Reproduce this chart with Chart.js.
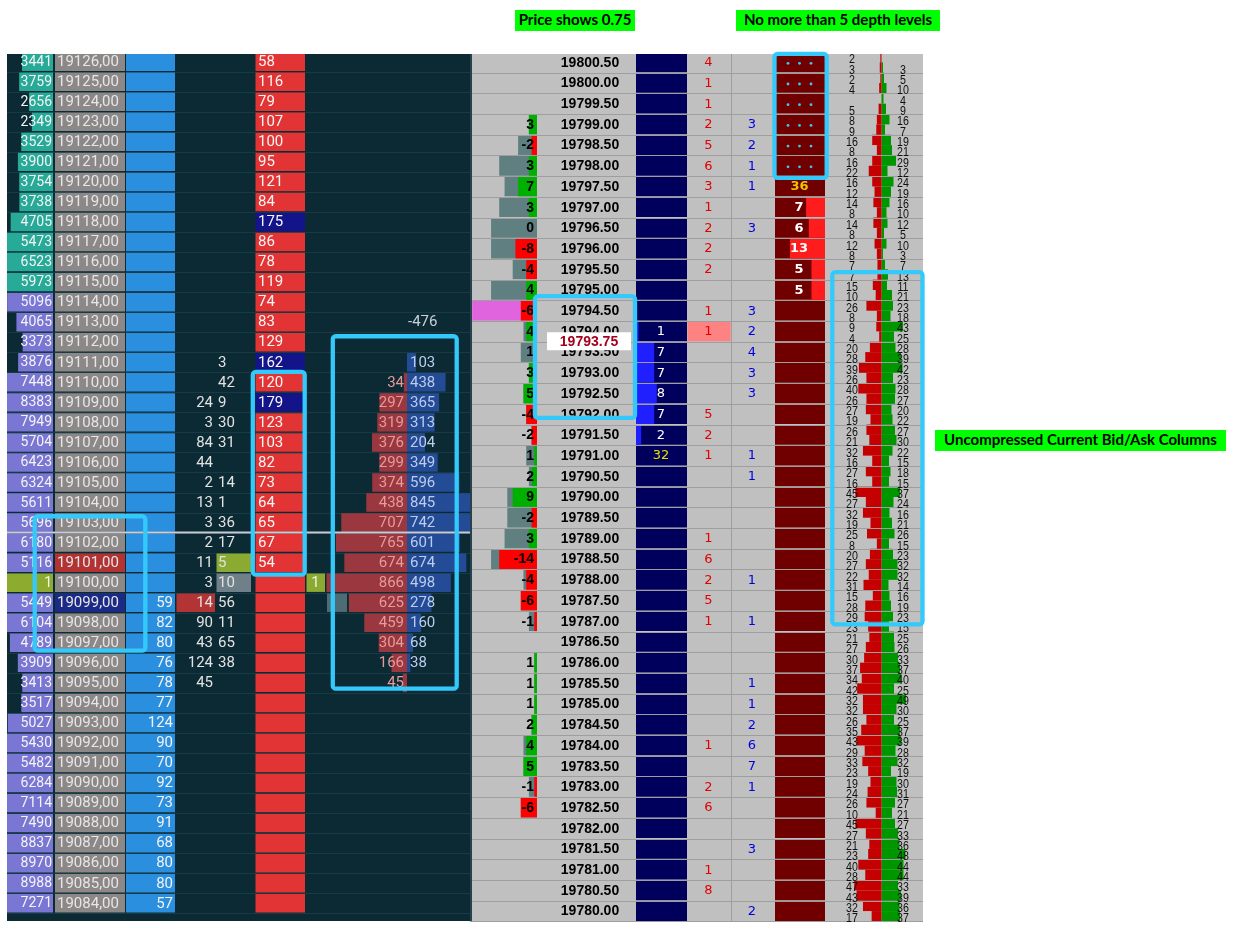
<!DOCTYPE html>
<html>
<head>
<meta charset="utf-8">
<title>DOM ladders</title>
<script src="https://cdn.jsdelivr.net/npm/chart.js@4.4.1/dist/chart.umd.min.js"></script>
<style>
  html, body { margin: 0; padding: 0; background: #fff; }
  #wrap { position: relative; width: 1245px; height: 936px; overflow: hidden; }
  .note { position: absolute; height: 21px; line-height: 21px; background: #00ff00; color: #000;
          font: bold 15px Lato, "Open Sans", sans-serif; text-align: center; white-space: nowrap; }
</style>
</head>
<body>
<div id="wrap">
  <canvas id="ladder" width="1245" height="936"></canvas>
  <div class="note" style="left:515px;top:10px;width:120px">Price shows 0.75</div>
  <div class="note" style="left:736px;top:10px;width:204px">No more than 5 depth levels</div>
  <div class="note" style="left:935px;top:430px;width:291px">Uncompressed Current Bid/Ask Columns</div>
</div>
<script>
// ---------- left ladder (1.00 ticks) ----------
const priceL = [19126,19125,19124,19123,19122,19121,19120,19119,19118,19117,
                19116,19115,19114,19113,19112,19111,19110,19109,19108,19107,
                19106,19105,19104,19103,19102,19101,19100,19099,19098,19097,
                19096,19095,19094,19093,19092,19091,19090,19089,19088,19087,
                19086,19085,19084];
const volProfile = [3441,3759,2656,2349,3529,3900,3754,3738,4705,5473,
                    6523,5973,5096,4065,3373,3876,7448,8383,7949,5704,
                    6423,6324,5611,5696,6180,5116,1,5449,6104,4789,
                    3909,3413,3517,5027,5430,5482,6284,7114,7490,8837,
                    8970,8988,7271];
const profileSplit = 19115;          // teal at and above, purple below
const lastPriceL = 19100;
const askPriceL = 19101;
const bidPriceL = 19099;
const bidSizeL = [null,null,null,null,null,null,null,null,null,null,
                  null,null,null,null,null,null,null,null,null,null,
                  null,null,null,null,null,null,null,59,82,80,
                  76,78,77,124,90,70,92,73,91,68,
                  80,80,57];
const askSizeL = [58,116,79,107,100,95,121,84,175,86,
                  78,119,74,83,129,162,120,179,123,103,
                  82,73,64,65,67,54,null,null,null,null,
                  null,null,null,null,null,null,null,null,null,null,
                  null,null,null];
const largeAskL = [19118, 19111, 19109];
const tradeLeftL = [null,null,null,null,null,null,null,null,null,null,
                    null,null,null,null,null,null,null,24,3,84,
                    44,2,13,3,2,11,3,14,90,43,
                    124,45,null,null,null,null,null,null,null,null,
                    null,null,null];
const tradeRightL = [null,null,null,null,null,null,null,null,null,null,
                     null,null,null,null,null,3,42,9,30,31,
                     null,14,1,36,17,5,10,56,11,65,
                     38,null,null,null,null,null,null,null,null,null,
                     null,null,null];
const sessSellL = [null,null,null,null,null,null,null,null,null,null,
                   null,null,null,null,null,null,34,297,319,376,
                   299,374,438,707,765,674,866,625,459,304,
                   166,45,null,null,null,null,null,null,null,null,
                   null,null,null];
const sessBuyL = [null,null,null,null,null,null,null,null,null,null,
                  null,null,null,null,null,103,438,365,313,204,
                  349,596,845,742,601,674,498,278,160,68,
                  38,null,null,null,null,null,null,null,null,null,
                  null,null,null];
const sessDeltaAt = 19113;
const lastPrintL = 1;
const markerLineL = 19102.5;

// ---------- right ladder (0.50 ticks) ----------
const priceR = [19800.5,19800,19799.5,19799,19798.5,19798,19797.5,19797,19796.5,19796,
                19795.5,19795,19794.5,19794,19793.5,19793,19792.5,19792,19791.5,19791,
                19790.5,19790,19789.5,19789,19788.5,19788,19787.5,19787,19786.5,19786,
                19785.5,19785,19784.5,19784,19783.5,19783,19782.5,19782,19781.5,19781,
                19780.5,19780];
const deltaR = [null,null,null,3,-2,3,7,3,0,-8,
                -4,4,-6,4,1,3,5,-4,-2,1,
                2,9,-2,3,-14,-4,-6,-1,null,1,
                1,1,2,4,5,-1,-6,null,null,null,
                null,null];
const volR = [0,0,0,3,7,14,12,14,17,17,
              9,17,24,5,6,3,5,4,2,4,
              3,11,11,12,17,5,6,3,0,1,
              1,1,2,5,5,3,6,0,0,0,
              0,0];
const bidDepthR = [null,null,null,null,null,null,null,null,null,null,
                   null,null,null,1,7,7,8,7,2,null,
                   null,null,null,null,null,null,null,null,null,null,
                   null,null,null,null,null,null,null,null,null,null,
                   null,null];
const askDepthR = [null,null,null,null,null,null,null,7,6,13,
                   5,5,null,null,null,null,null,null,null,null,
                   null,null,null,null,null,null,null,null,null,null,
                   null,null,null,null,null,null,null,null,null,null,
                   null,null];
const sellR = [4,1,1,2,5,6,3,1,2,2,
               2,null,1,1,null,null,null,5,2,1,
               null,null,null,1,6,2,5,1,null,null,
               null,null,null,1,null,2,6,null,null,1,
               8,null];
const buyR = [null,null,null,3,2,1,1,null,3,null,
              null,null,3,2,4,3,3,null,null,1,
              1,null,null,null,null,1,null,1,null,null,
              1,1,2,6,7,1,null,null,3,null,
              null,2];
const hiddenAskPrices = [19800.5,19800,19799.5,19799,19798.5,19798];
const hiddenAskTotal = 36, hiddenAskAt = 19797.5;
const hiddenBidTotal = 32, hiddenBidAt = 19791;
const lastTradeR = 19794;
const showPriceR = 19793.75;
// uncompressed bid/ask column, two values per 0.50 row
const splitBid = [2,3,2,4,null,5,8,9,16,8, 16,22,16,12,14,8,14,8,12,8,
                  7,7,15,10,26,8,9,4,20,28, 39,26,40,26,27,19,26,21,32,16,
                  27,16,45,27,32,19,25,8,20,27, 22,31,15,28,29,23,21,27,30,37,
                  34,42,32,32,26,35,43,29,33,23, 19,24,26,10,45,27,21,23,40,28,
                  47,43,32,17];
const splitAsk = [null,3,5,10,4,9,16,7,19,21, 29,12,24,19,16,10,12,5,10,3,
                  7,13,11,21,23,18,43,25,28,39, 42,23,28,27,20,22,27,30,22,15,
                  18,15,37,24,16,21,26,15,23,32, 32,14,16,19,23,15,25,26,33,37,
                  40,25,49,30,25,37,39,28,32,19, 30,31,27,21,27,33,36,48,44,44,
                  33,39,36,37];
const halfPrices = priceR.flatMap(p => [p + 0.125, p - 0.125]);

// ---------- layout (x scale runs 0..1245, one unit per page pixel) ----------
const TOP = 54, BOTTOM = 921;
const PANEL_L = [7, 470], PANEL_R = [470, 923];
const yLmax = priceL[0] + 0.385, yLmin = priceL[priceL.length - 1] - 0.883;
const yRmax = priceR[0] + 0.2, yRmin = priceR[priceR.length - 1] - 0.24;
const rowL = (BOTTOM - TOP) / (yLmax - yLmin);
const rowR = (BOTTOM - TOP) / (yRmax - yRmin) * 0.5;

const calloutsL = [{x: [34.7, 145.3], y: [19103.315, 19096.61]},
                   {x: [252.8, 304.7], y: [19110.52, 19100.40]},
                   {x: [332.8, 456.7], y: [19112.30, 19094.71]}];
const calloutsR = [{x: [535, 635], y: [19794.85, 19791.91]},
                   {x: [774.5, 826.7], y: [19800.705, 19797.71]},
                   {x: [832.3, 922.5], y: [19795.43, 19786.925]}];

function rows(prices, vals, fn) {
  return prices.map((p, i) => (vals[i] == null ? null : {y: p, x: fn(vals[i], p), v: vals[i], p}))
               .filter(Boolean);
}

function bars(label, axis, data, order, color) {
  return {
    label, data, order, xAxisID: 'x', yAxisID: axis,
    backgroundColor: color,
    barThickness: axis === 'yL' ? rowL - 1.6 : axis === 'yR' ? rowR - 1 : rowR / 2,
    grouped: false, borderWidth: 0, inflateAmount: 0, clip: 0
  };
}

const maxVolR = Math.max(...volR);

const datasets = [
  // left ladder
  bars('profile', 'yL', rows(priceL, volProfile, (v, p) =>
      p === lastPriceL ? [PANEL_L[0], 53] : [53 - Math.min(v * 0.009, 46), 53]), 5,
      c => c.raw.p === lastPriceL ? '#8dab2e' : c.raw.p >= profileSplit ? '#27aa98' : '#7976d4'),
  bars('priceCells', 'yL', rows(priceL, priceL, () => [55, 125]), 9,
      c => c.raw.p === askPriceL ? '#b33232' : c.raw.p === bidPriceL ? '#1b2a86' : '#8c8888'),
  bars('bidColumn', 'yL', rows(priceL, priceL, () => [126, 175]), 9, '#2b8fe0'),
  bars('askColumn', 'yL', rows(priceL, priceL, () => [255.5, 305]), 9,
      c => largeAskL.includes(c.raw.p) ? '#14148a' : '#e23434'),
  bars('tradeMarks', 'yL', [
      {y: askPriceL, x: [216.5, 251]}, {y: lastPriceL, x: [216.5, 251]}, {y: bidPriceL, x: [176.5, 215]}], 5,
      ['#8aaa32', '#6f8088', '#b23434']),
  bars('sessSell', 'yL', rows(priceL, sessSellL, v => [407 - v * 0.093, 407]), 6, 'rgba(168,58,64,0.92)'),
  bars('sessBuy', 'yL', rows(priceL, sessBuyL, v => [407, Math.min(PANEL_L[1], 407 + v * 0.088)]), 6, 'rgba(38,78,156,0.95)'),
  bars('lastPrint', 'yL', [{y: lastPriceL, x: [306.5, 325]}, {y: bidPriceL, x: [327, 347]}], 5, ['#8aaa32', '#4d6c73']),
  // right ladder
  bars('bidBg', 'yR', rows(priceR, priceR, () => [636, 687]), 9, '#00005c'),
  bars('askBg', 'yR', rows(priceR, priceR, () => [775, 825]), 9, '#700000'),
  bars('volume', 'yR', rows(priceR, volR.map(v => v || null), v => [537 - v * 2.7, 537]), 7,
      c => c.raw.v === maxVolR ? '#e064de' : '#5f7f80'),
  bars('delta', 'yR', rows(priceR, deltaR.map(d => d || null), d => [537 - Math.abs(d) * 2.7, 537]), 6,
      c => c.raw.v > 0 ? '#00b000' : '#ff0000'),
  bars('bidDepth', 'yR', rows(priceR, bidDepthR, v => [636, 636 + v * 2.6]), 6, '#2020ff'),
  bars('askDepth', 'yR', rows(priceR, askDepthR, v => [825 - v * 2.7, 825]), 6, '#ff1c1c'),
  bars('lastTrade', 'yR', [{y: lastTradeR, x: [687.5, 730.5]}], 6, '#ff8282'),
  bars('splitBid', 'yQ', rows(halfPrices, splitBid, v => [881.5 - v * 0.58, 881.5]), 6, '#c40000'),
  bars('splitAsk', 'yQ', rows(halfPrices, splitAsk, v => [881.5, 881.5 + v * 0.5]), 6, '#009600')
];

function txt(ctx, s, x, y, font, color, align) {
  ctx.font = font;
  ctx.fillStyle = color;
  ctx.textAlign = align || 'center';
  ctx.textBaseline = 'middle';
  ctx.fillText(s, x, y);
}

function hline(ctx, x0, x1, y) {
  ctx.beginPath(); ctx.moveTo(x0, y); ctx.lineTo(x1, y); ctx.stroke();
}

const ladderPlugin = {
  id: 'ladder',
  beforeDatasetsDraw(chart) {
    const {ctx, chartArea: a, scales: {x, yL}} = chart;
    ctx.save();
    ctx.fillStyle = '#0b2a34';
    ctx.fillRect(x.getPixelForValue(PANEL_L[0]), a.top, PANEL_L[1] - PANEL_L[0], a.bottom - a.top);
    ctx.fillStyle = '#c0c0c0';
    ctx.fillRect(x.getPixelForValue(PANEL_R[0]), a.top, PANEL_R[1] - PANEL_R[0], a.bottom - a.top);
    ctx.strokeStyle = '#173a45';
    ctx.lineWidth = 1;
    priceL.forEach(p => hline(ctx, x.getPixelForValue(PANEL_L[0]), x.getPixelForValue(PANEL_L[1]),
                               Math.round(yL.getPixelForValue(p - 0.5)) + 0.5));
    ctx.restore();
  },
  afterDatasetsDraw(chart) {
    const {ctx, scales: {x, yL, yR, yQ}} = chart;
    const X = v => x.getPixelForValue(v);
    ctx.save();

    // right grid
    ctx.strokeStyle = '#9e9e9e';
    ctx.lineWidth = 1;
    priceR.forEach(p => hline(ctx, X(PANEL_R[0]), X(PANEL_R[1]), Math.round(yR.getPixelForValue(p - 0.25)) + 0.5));
    ctx.beginPath(); ctx.moveTo(X(731.5), yR.getPixelForValue(yRmax)); ctx.lineTo(X(731.5), yR.getPixelForValue(yRmin)); ctx.stroke();
    ctx.strokeStyle = '#27414d';
    ctx.lineWidth = 2;
    ctx.beginPath(); ctx.moveTo(X(471), yR.getPixelForValue(yRmax)); ctx.lineTo(X(471), yR.getPixelForValue(yRmin)); ctx.stroke();

    // left texts
    const fL = '15px Roboto, sans-serif';
    priceL.forEach((p, i) => {
      const y = yL.getPixelForValue(p) + 0.5;
      txt(ctx, String(volProfile[i]), X(52), y, '14px Roboto, sans-serif', '#f4f4f4', 'right');
      txt(ctx, p.toFixed(2).replace('.', ','), X(57), y, fL, '#e6e6e6', 'left');
      if (bidSizeL[i] != null) txt(ctx, String(bidSizeL[i]), X(173), y, fL, '#f2f2f2', 'right');
      if (tradeLeftL[i] != null) txt(ctx, String(tradeLeftL[i]), X(213), y, fL, '#e2e2e2', 'right');
      if (tradeRightL[i] != null) txt(ctx, String(tradeRightL[i]), X(218), y, fL, '#e2e2e2', 'left');
      if (askSizeL[i] != null) txt(ctx, String(askSizeL[i]), X(258), y, fL, '#f6f6f6', 'left');
      if (sessSellL[i] != null) txt(ctx, String(sessSellL[i]), X(404), y, fL, '#e59a9c', 'right');
      if (sessBuyL[i] != null) txt(ctx, String(sessBuyL[i]), X(410), y, fL, '#bccbee', 'left');
    });
    const sum = arr => arr.reduce((s, v) => s + (v || 0), 0);
    txt(ctx, String(sum(sessBuyL) - sum(sessSellL)), X(408), yL.getPixelForValue(sessDeltaAt), fL, '#c9d1d8', 'left');
    txt(ctx, String(lastPrintL), X(315.5), yL.getPixelForValue(lastPriceL) + 0.5, fL, '#eef2e0');

    // marker line on the left ladder
    ctx.strokeStyle = '#c9ccd4';
    ctx.lineWidth = 2;
    hline(ctx, X(PANEL_L[0]), X(PANEL_L[1]), yL.getPixelForValue(markerLineL));

    // right texts
    const fB = 'bold 14px "Liberation Sans", Arial, sans-serif';
    const fN = '13px "DejaVu Sans", sans-serif';
    priceR.forEach((p, i) => {
      const y = yR.getPixelForValue(p) + 0.5;
      txt(ctx, p.toFixed(2), X(590), y, fB, '#000');
      if (deltaR[i] != null) txt(ctx, String(deltaR[i]), X(534), y, fB, '#000', 'right');
      if (bidDepthR[i] != null) txt(ctx, String(bidDepthR[i]), X(661), y, fN, '#ffffff');
      if (sellR[i] != null) txt(ctx, String(sellR[i]), X(708.5), y, fN, '#e00000');
      if (buyR[i] != null) txt(ctx, String(buyR[i]), X(752), y, fN, '#0000e0');
      if (askDepthR[i] != null) txt(ctx, String(askDepthR[i]), X(799), y, 'bold 13px "DejaVu Sans", sans-serif', '#ffffff');
    });
    txt(ctx, String(hiddenAskTotal), X(799.5), yR.getPixelForValue(hiddenAskAt) + 0.5, 'bold 13px "DejaVu Sans", sans-serif', '#e8c400');
    txt(ctx, String(hiddenBidTotal), X(661), yR.getPixelForValue(hiddenBidAt) + 0.5, fN, '#e8e000');

    // hidden depth levels
    ctx.fillStyle = '#3cc8f0';
    hiddenAskPrices.forEach(p => {
      const y = yR.getPixelForValue(p) + 1;
      [788, 799.5, 811].forEach(dx => { ctx.beginPath(); ctx.arc(X(dx), y, 1.4, 0, Math.PI * 2); ctx.fill(); });
    });

    // uncompressed bid/ask numbers (condensed)
    ctx.font = '13px "Liberation Sans", Arial, sans-serif';
    ctx.fillStyle = '#101010';
    ctx.textAlign = 'center';
    ctx.textBaseline = 'middle';
    halfPrices.forEach((p, i) => {
      const y = yQ.getPixelForValue(p) + 2.5;
      [[splitBid[i], 852], [splitAsk[i], 903]].forEach(([v, cx]) => {
        if (v == null) return;
        ctx.save(); ctx.translate(X(cx), y); ctx.scale(0.82, 1); ctx.fillText(String(v), 0, 0); ctx.restore();
      });
    });

    // price with 0.75 fraction
    const yS = yR.getPixelForValue(showPriceR);
    ctx.fillStyle = '#ffffff';
    ctx.fillRect(X(547), yS - 9.5, 84, 18);
    txt(ctx, showPriceR.toFixed(2), X(589), yS + 0.5, fB, '#a3001c');

    // callouts
    ctx.strokeStyle = '#33c9fb';
    ctx.lineWidth = 4.3;
    const box = (b, ys) => {
      const x0 = X(b.x[0]), x1 = X(b.x[1]), y0 = ys.getPixelForValue(b.y[0]), y1 = ys.getPixelForValue(b.y[1]);
      ctx.beginPath(); ctx.roundRect(x0, y0, x1 - x0, y1 - y0, 3); ctx.stroke();
    };
    calloutsL.forEach(b => box(b, yL));
    calloutsR.forEach(b => box(b, yR));
    ctx.restore();
  }
};

new Chart(document.getElementById('ladder'), {
  type: 'bar',
  data: {datasets},
  options: {
    indexAxis: 'y',
    responsive: false,
    animation: false,
    events: [],
    layout: {padding: {top: TOP, bottom: 936 - BOTTOM, left: 0, right: 0}},
    scales: {
      x: {type: 'linear', min: 0, max: 1245, offset: false, display: false},
      yL: {type: 'linear', min: yLmin, max: yLmax, offset: false, display: false},
      yR: {type: 'linear', min: yRmin, max: yRmax, offset: false, display: false},
      yQ: {type: 'linear', min: yRmin, max: yRmax, offset: false, display: false}
    },
    plugins: {legend: {display: false}, tooltip: {enabled: false}}
  },
  plugins: [ladderPlugin]
});
</script>
</body>
</html>
